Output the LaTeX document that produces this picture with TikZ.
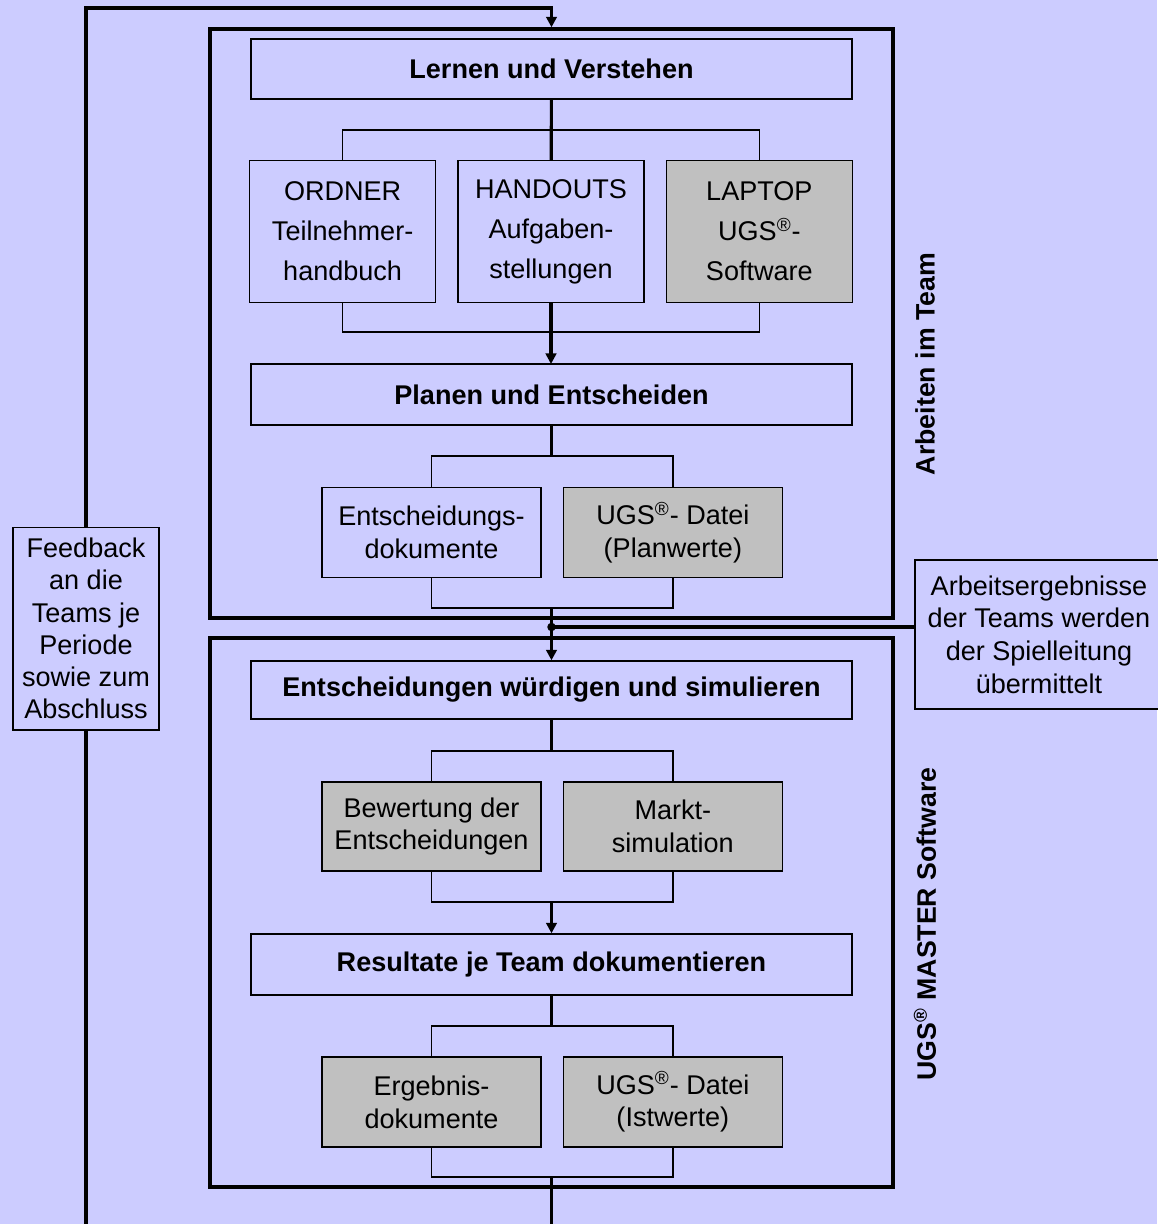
\documentclass[tikz,border=0pt]{standalone}
\usepackage{fontspec}
\setmainfont{Liberation Sans}
\usetikzlibrary{arrows.meta, positioning}
\definecolor{bgblue}{RGB}{204,204,255}
\definecolor{boxgray}{RGB}{192,192,192}
\newcommand{\ugs}{UGS\textsuperscript{\textregistered}}

\begin{document}
\begin{tikzpicture}[x=0.02cm, y=-0.02cm,
    box/.style={draw, line width=0.8pt, fill=bgblue, align=center, inner sep=0pt,
        font=\fontsize{15.4}{18.6}\selectfont},
    stage/.style={box, minimum width=12.02cm, font=\fontsize{15.4}{18.6}\selectfont\bfseries},
    tool/.style={box, minimum width=3.72cm, minimum height=2.84cm,
        font=\fontsize{15.4}{22.8}\selectfont},
    item/.style={box, minimum width=4.38cm, minimum height=1.8cm},
    shaded/.style={fill=boxgray},
    frame/.style={draw, line width=2pt, minimum width=13.66cm, inner sep=0pt},
    side/.style={rotate=90, font=\fontsize{15.2}{18}\selectfont\bfseries},
    trunk/.style={line width=1.8pt},
    link/.style={line width=0.8pt},
    feed/.style={line width=2.2pt},
    tip/.style={-{Triangle[length=6pt, width=6pt]}}
]
    \fill[bgblue] (0,0) rectangle (1157,1224);
    \useasboundingbox (0,0) rectangle (1157,1224);

    % frames
    \node[frame, minimum height=11.78cm] (team) at (551.5,323.5) {};
    \node[frame, minimum height=10.98cm] (master) at (551.5,912.5) {};
    \node[side] (teamlabel) at (925,364) {Arbeiten im Team};
    \node[side] (masterlabel) at (925,924) {\ugs{} MASTER Software};

    % learning
    \node[stage, minimum height=1.2cm] (lernen) at (551.5,69) {Lernen und Verstehen};
    \node[tool] (handouts) at (551,231.5) {HANDOUTS\\Aufgaben-\\stellungen};
    \node[tool, left=0.42cm of handouts] (ordner) {ORDNER\\Teilnehmer-\\handbuch};
    \node[tool, shaded, right=0.42cm of handouts] (laptop) {LAPTOP\\\ugs-\\Software};
    \coordinate (split1) at (551.5,130);
    \coordinate (join1) at (551.5,332);
    \draw[trunk] (lernen) -- (handouts);
    \draw[link] (ordner.north) |- (split1) -| (laptop.north);
    \draw[link] (ordner.south) |- (join1) -| (laptop.south);
    \draw[trunk, tip] (handouts.south) -- (handouts.south |- 0,364);

    % planning
    \node[stage, minimum height=1.22cm] (planen) at (551.5,394.5) {Planen und Entscheiden};
    \node[item] (entdok) at (431.5,532.5) {Entscheidungs-\\dokumente};
    \node[item, shaded, right=0.42cm of entdok] (plandatei) {\ugs- Datei\\(Planwerte)};
    \coordinate (split2) at (551.5,456);
    \coordinate (join2) at (551.5,608);
    \coordinate (hub) at (551.5,627);
    \draw[trunk] (planen) -- (split2);
    \draw[link] (entdok.north) |- (split2) -| (plandatei.north);
    \draw[link] (entdok.south) |- (join2) -| (plandatei.south);

    % hand-over
    \node[box, minimum width=4.96cm, minimum height=2.98cm] (uebergabe) at (1039,634.5)
        {Arbeitsergebnisse\\der Teams werden\\der Spielleitung\\übermittelt};
    \draw[feed] (hub) -- (uebergabe.west |- hub);
    \fill (hub) circle[radius=0.085cm];

    % simulation
    \node[stage, minimum height=1.16cm] (wuerdigen) at (551.5,690) {Entscheidungen würdigen und simulieren};
    \draw[trunk, tip] (join2) -- (wuerdigen.north);
    \node[item, shaded, minimum height=1.78cm] (bewertung) at (431.5,826.5) {Bewertung der\\Entscheidungen};
    \node[item, shaded, minimum height=1.78cm, right=0.42cm of bewertung] (markt) {Markt-\\simulation};
    \coordinate (split3) at (551.5,751);
    \coordinate (join3) at (551.5,902);
    \draw[trunk] (wuerdigen) -- (split3);
    \draw[link] (bewertung.north) |- (split3) -| (markt.north);
    \draw[link] (bewertung.south) |- (join3) -| (markt.south);

    % results
    \node[stage, minimum height=1.22cm] (resultate) at (551.5,964.5) {Resultate je Team dokumentieren};
    \draw[trunk, tip] (join3) -- (resultate.north);
    \node[item, shaded] (ergebnis) at (431.5,1102) {Ergebnis-\\dokumente};
    \node[item, shaded, right=0.42cm of ergebnis] (istdatei) {\ugs- Datei\\(Istwerte)};
    \coordinate (split4) at (551.5,1026);
    \coordinate (join4) at (551.5,1177);
    \coordinate (exit) at (551.5,1224);
    \draw[trunk] (resultate) -- (split4);
    \draw[link] (ergebnis.north) |- (split4) -| (istdatei.north);
    \draw[link] (ergebnis.south) |- (join4) -| (istdatei.south);
    \draw[trunk] (join4) -- (exit);

    % feedback loop
    \node[box, line width=0.6pt, minimum width=2.92cm, minimum height=4.06cm,
        font=\fontsize{15.4}{18.3}\selectfont] (feedback) at (86,628.5)
        {Feedback\\an die\\Teams je\\Periode\\sowie zum\\Abschluss};
    \coordinate (loop) at (551.5,8);
    \coordinate (loopend) at (86,1224);
    \draw[feed, tip] (feedback.north) |- (loop) -- (team.north);
    \draw[feed] (feedback.south) -- (loopend);
\end{tikzpicture}
\end{document}
